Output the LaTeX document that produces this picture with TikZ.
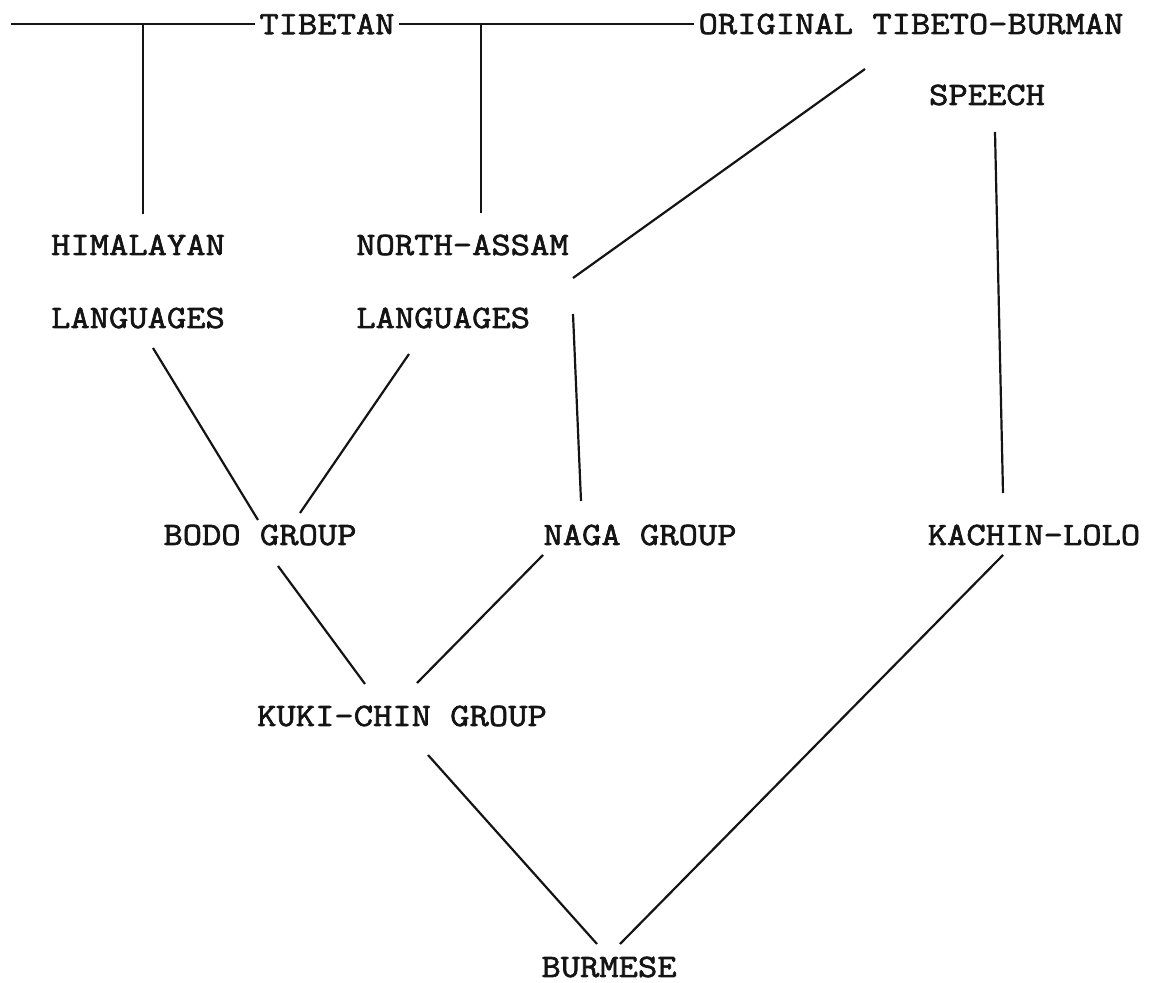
\documentclass[tikz,border=0pt]{standalone}
\usepackage{fontspec}
\usepackage{tikz}
\usetikzlibrary{calc}
\usetikzlibrary{positioning}
\newfontfamily\typewriter{Latin Modern Mono}[FakeStretch=1.15, FakeBold=2]
\definecolor{ink}{RGB}{20, 20, 20}

\begin{document}
\begin{tikzpicture}[x=0.5pt, y=-0.5pt,
        lang/.style={font=\typewriter\fontsize{16.3}{36.5}\selectfont, text=ink, inner sep=2pt, align=left},
        branch/.style={draw=ink, line width=1.1pt}]
            \useasboundingbox (0, 0) rectangle (1151, 983);
            \node[lang] (tib)     at ( 327.0,  24.0) {TIBETAN};
            \node[lang] (orig)    at ( 911.0,  24.0) {ORIGINAL TIBETO-BURMAN};
            \node[lang] (speech)  at ( 987.0,  95.0) {SPEECH};
            \node[lang] (him)     at ( 138.0, 281.5) {HIMALAYAN\\LANGUAGES};
            \node[lang] (na)      at ( 462.5, 281.5) {NORTH-ASSAM\\LANGUAGES};
            \node[lang] (bodo)    at ( 260.0, 535.0) {BODO GROUP};
            \node[lang] (naga)    at ( 640.0, 535.0) {NAGA GROUP};
            \node[lang] (kachin)  at (1034.0, 535.0) {KACHIN-LOLO};
            \node[lang] (kuki)    at ( 402.0, 716.0) {KUKI-CHIN GROUP};
            \node[lang, inner sep=0pt] (burmese) at ( 609.0, 967.0) {BURMESE};
            \coordinate (lend) at (11, 24);

            \draw[branch] (lend) -- (tib.west) (tib.east) -- (orig.west);
            \draw[branch] ([shift={(5,0)}]him.center |- tib.west)   -- ([shift={(5,-67.5)}]him.center);
            \draw[branch] ([shift={(18.5,0)}]na.center |- tib.east) -- ([shift={(18.5,-68.5)}]na.center);
            \draw[branch] ([shift={(-46,45)}]orig.center)     -- ([shift={(110.5,-3.5)}]na.center);
            \draw[branch] ([shift={(8,37)}]speech.center)     -- ([shift={(-31,-42)}]kachin.center);
            \draw[branch] ([shift={(15,66.5)}]him.center)     -- ([shift={(-2,-15)}]bodo.center);
            \draw[branch] ([shift={(-53.5,72.5)}]na.center)   -- ([shift={(40,-22)}]bodo.center);
            \draw[branch] ([shift={(110.5,32.5)}]na.center)   -- ([shift={(-59,-34)}]naga.center);
            \draw[branch] ([shift={(18,31)}]bodo.center)      -- ([shift={(-37,-32)}]kuki.center);
            \draw[branch] ([shift={(-97,20)}]naga.center)     -- ([shift={(15,-33)}]kuki.center);
            \draw[branch] ([shift={(26,39)}]kuki.center)      -- ([shift={(-12,-23)}]burmese.center);
            \draw[branch] ([shift={(-31,20)}]kachin.center)   -- ([shift={(11,-23)}]burmese.center);
        \end{tikzpicture}
\end{document}
